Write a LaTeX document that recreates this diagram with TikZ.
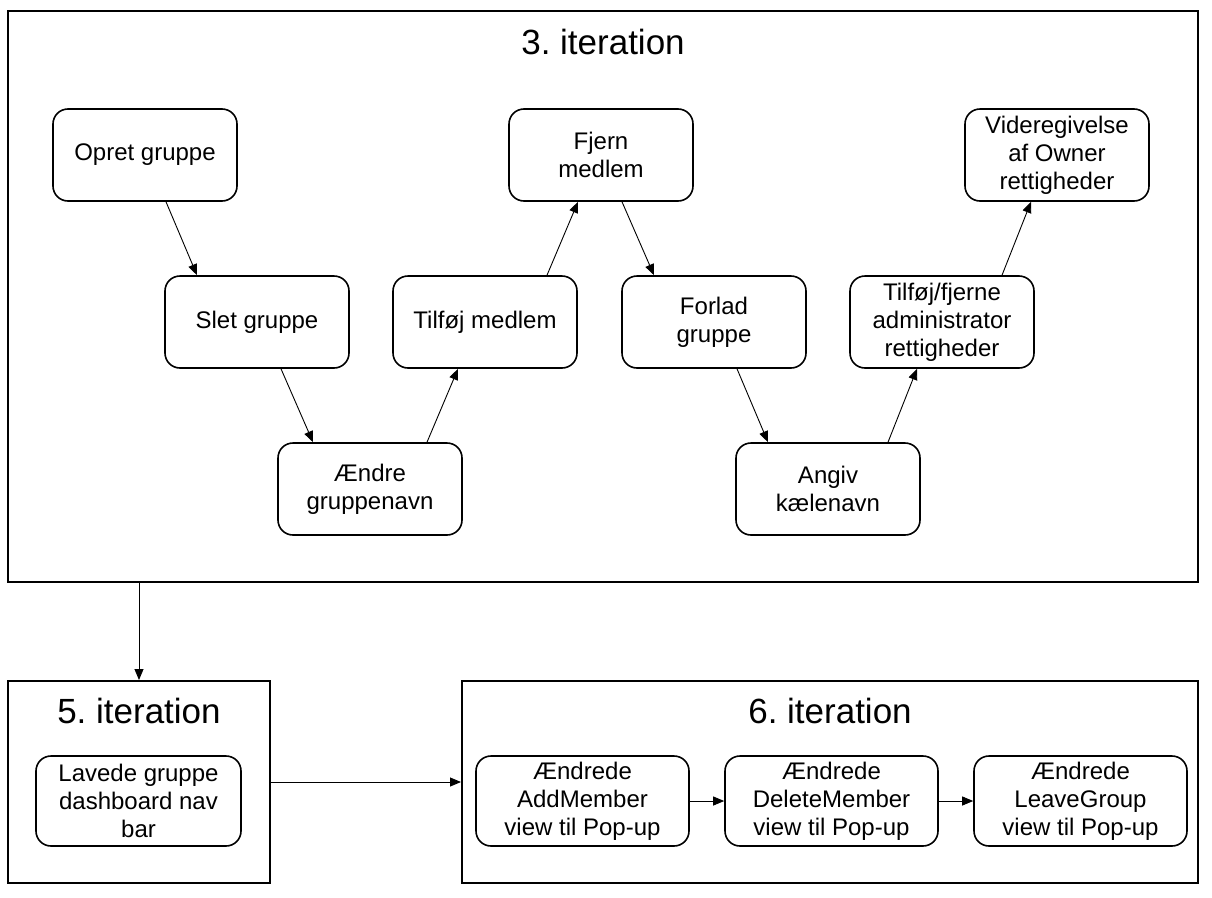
\documentclass[tikz,border=0pt]{standalone}
\usepackage{fontspec}
\setmainfont{Liberation Sans}
\usetikzlibrary{arrows.meta,calc}

\begin{document}
\begin{tikzpicture}[x=1pt,y=-1pt]
\tikzstyle{frame}=[draw, line width=2pt, inner sep=0pt]
\tikzstyle{task}=[draw, rounded corners=15pt, line width=1.6pt, minimum width=184pt, minimum height=92pt, align=center, inner sep=0pt, font=\fontsize{24}{28}\selectfont]
\tikzstyle{title}=[font=\fontsize{35}{40}\selectfont]
\tikzstyle{arr}=[-{Triangle[length=11pt,width=9pt]}, line width=0.9pt]

\useasboundingbox (0,0) rectangle (1212,897);

\node[frame, minimum width=1190, minimum height=571] (it3) at (603,296.5) {};
\node[title] (t3) at (603,42) {3.\ iteration};
\node[task] (opret) at (145,155) {Opret gruppe};
\node[task] (slet) at (257,322) {Slet gruppe};
\node[task] (aendre) at (370,489) {Ændre\\gruppenavn};
\node[task] (tilfoej) at (485,322) {Tilføj medlem};
\node[task] (fjern) at (601,155) {Fjern\\medlem};
\node[task] (forlad) at (714,322) {Forlad\\gruppe};
\node[task] (angiv) at (828,489) {Angiv\\kælenavn};
\node[task] (admin) at (942,322) {Tilføj/fjerne\\administrator\\rettigheder};
\node[task] (owner) at (1057,155) {Videregivelse\\af Owner\\rettigheder};

\draw[arr] ($(opret.south)+(21,0)$) -- ($(slet.north)+(-60,0)$);
\draw[arr] ($(slet.south)+(24,0)$) -- ($(aendre.north)+(-57,0)$);
\draw[arr] ($(aendre.north)+(57,0)$) -- ($(tilfoej.south)+(-27,0)$);
\draw[arr] ($(tilfoej.north)+(62,0)$) -- ($(fjern.south)+(-23,0)$);
\draw[arr] ($(fjern.south)+(21,0)$) -- ($(forlad.north)+(-60,0)$);
\draw[arr] ($(forlad.south)+(23,0)$) -- ($(angiv.north)+(-60,0)$);
\draw[arr] ($(angiv.north)+(60,0)$) -- ($(admin.south)+(-25,0)$);
\draw[arr] ($(admin.north)+(60,0)$) -- ($(owner.south)+(-26,0)$);

\node[frame, minimum width=262, minimum height=202] (it5) at (139,782) {};
\node[title] (t5) at (139,711) {5.\ iteration};
\node[task, minimum width=205, minimum height=90] (navbar) at (138.5,801) {Lavede gruppe\\dashboard nav\\bar};

\node[frame, minimum width=736, minimum height=202] (it6) at (830,782) {};
\node[title] (t6) at (830,711) {6.\ iteration};
\node[task, minimum width=213, minimum height=90] (addm) at (582.5,801) {Ændrede\\AddMember\\view til Pop-up};
\node[task, minimum width=213, minimum height=90] (delm) at (831.5,801) {Ændrede\\DeleteMember\\view til Pop-up};
\node[task, minimum width=213, minimum height=90] (leave) at (1080.5,801) {Ændrede\\LeaveGroup\\view til Pop-up};

\draw[arr] (it5.north |- it3.south) -- (it5.north);
\draw[arr] (it5.east) -- (it6.west);
\draw[arr] (addm) -- (delm);
\draw[arr] (delm) -- (leave);
\end{tikzpicture}
\end{document}
